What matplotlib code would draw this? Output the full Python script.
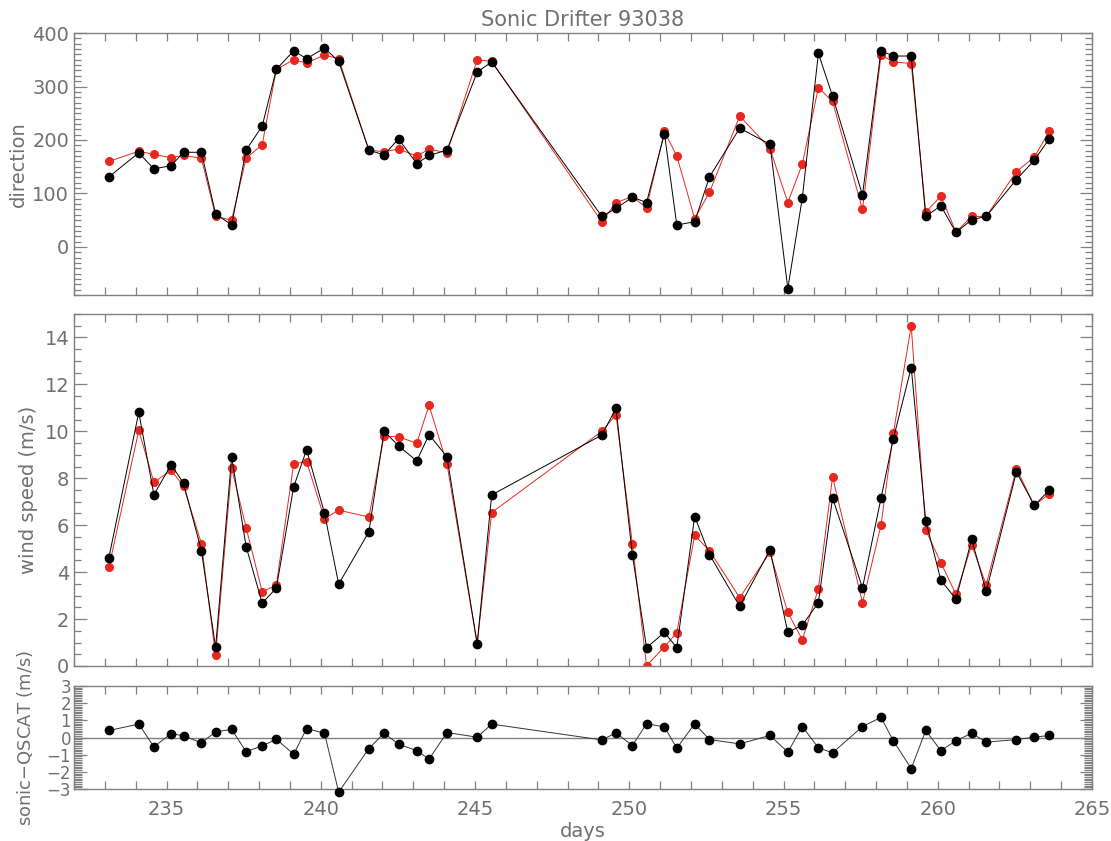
import matplotlib
matplotlib.use("Agg")
import matplotlib.pyplot as plt
from matplotlib.ticker import MultipleLocator

# observation times (day of year)
days = [233.13, 234.10, 234.59, 235.15, 235.55, 236.13, 236.59, 237.11, 237.58, 238.10,
        238.56, 239.12, 239.54, 240.12, 240.58, 241.56, 242.05, 242.52, 243.11, 243.51,
        244.09, 245.07, 245.54, 249.11, 249.57, 250.10, 250.56, 251.14, 251.54, 252.12,
        252.60, 253.58, 254.56, 255.14, 255.61, 256.13, 256.59, 257.56, 258.16, 258.56,
        259.14, 259.61, 260.10, 260.59, 261.10, 261.57, 262.55, 263.13, 263.61]

# direction: sonic (black) and QSCAT (red)
dir_sonic = [131, 176, 146, 152, 177, 177, 62, 41, 181, 226,
             332, 367, 352, 372, 347, 181, 172, 202, 156, 171,
             181, 327, 346, 57, 72, 93, 83, 212, 41, 47,
             131, 222, 192, -78, 92, 362, 282, 97, 367, 357,
             357, 57, 77, 27, 51, 57, 126, 162, 202]
dir_qscat = [160, 179, 173, 167, 171, 166, 57, 50, 166, 191,
             332, 350, 344, 359, 352, 181, 178, 183, 170, 183,
             176, 350, 347, 47, 83, 94, 73, 216, 170, 53,
             102, 245, 184, 83, 155, 298, 272, 70, 359, 346,
             343, 65, 95, 28, 57, 57, 141, 168, 216]

# wind speed (m/s)
spd_sonic = [4.61, 10.81, 7.30, 8.58, 7.79, 4.92, 0.79, 8.91, 5.09, 2.68,
             3.32, 7.63, 9.22, 6.52, 3.49, 5.72, 10.01, 9.38, 8.74, 9.86,
             8.91, 0.94, 7.29, 9.84, 10.98, 4.75, 0.78, 1.43, 0.78, 6.37,
             4.75, 2.54, 4.95, 1.43, 1.74, 2.70, 7.16, 3.33, 7.15, 9.69,
             12.72, 6.20, 3.66, 2.85, 5.40, 3.18, 8.27, 6.84, 7.49]
spd_qscat = [4.20, 10.04, 7.83, 8.34, 7.67, 5.22, 0.45, 8.43, 5.90, 3.16,
             3.45, 8.61, 8.71, 6.28, 6.64, 6.35, 9.79, 9.77, 9.49, 11.11,
             8.61, 0.94, 6.54, 10.00, 10.71, 5.22, 0.01, 0.82, 1.42, 5.57,
             4.91, 2.91, 4.84, 2.28, 1.12, 3.29, 8.06, 2.70, 6.00, 9.91,
             14.50, 5.79, 4.41, 3.05, 5.16, 3.46, 8.41, 6.84, 7.33]

# sonic - QSCAT difference (m/s)
spd_diff = [0.41, 0.78, -0.54, 0.23, 0.10, -0.31, 0.33, 0.47, -0.82, -0.49,
            -0.10, -0.97, 0.52, 0.25, -3.18, -0.64, 0.25, -0.39, -0.76, -1.26,
            0.29, 0.02, 0.78, -0.14, 0.27, -0.47, 0.80, 0.62, -0.62, 0.80,
            -0.12, -0.37, 0.12, -0.85, 0.64, -0.60, -0.89, 0.64, 1.17, -0.19,
            -1.81, 0.41, -0.76, -0.19, 0.25, -0.27, -0.12, 0.02, 0.12]

GRAY = "#808080"
TXT = "#707070"
RED = "#e8281e"
plt.rcParams["font.family"] = "DejaVu Sans"
plt.rcParams["font.size"] = 14

fig = plt.figure(figsize=(11.11, 8.41), dpi=100)
ax1 = fig.add_axes([0.0666, 0.6492, 0.9163, 0.3115])
ax2 = fig.add_axes([0.0666, 0.2081, 0.9163, 0.4185])
ax3 = fig.add_axes([0.0666, 0.0618, 0.9163, 0.1225])


def style(ax, ymaj, ymin):
    for s in ax.spines.values():
        s.set_color(GRAY)
        s.set_linewidth(1.0)
    ax.xaxis.set_major_locator(MultipleLocator(5))
    ax.xaxis.set_minor_locator(MultipleLocator(1))
    ax.yaxis.set_major_locator(MultipleLocator(ymaj))
    ax.yaxis.set_minor_locator(MultipleLocator(ymin))
    ax.tick_params(which="both", direction="in", top=True, right=True,
                   color=GRAY, labelcolor=TXT, width=0.9, labelsize=14)
    ax.tick_params(axis="x", which="both", length=6, pad=8)
    ax.tick_params(axis="y", which="major", length=9)
    ax.tick_params(axis="y", which="minor", length=5)
    ax.set_xlim(232, 265)


def draw(ax, y_red, y_black):
    ax.plot(days, y_red, color=RED, lw=0.7, marker="o", ms=5.5, mec=RED, mfc=RED, zorder=2)
    ax.plot(days, y_black, color="black", lw=0.7, marker="o", ms=6, mec="black", mfc="black", zorder=3)


draw(ax1, dir_qscat, dir_sonic)
style(ax1, 100, 10)
ax1.set_ylim(-90, 400)
ax1.tick_params(axis="x", labelbottom=False)
ax1.set_ylabel("direction", color=TXT, fontsize=14)
ax1.yaxis.set_label_coords(-0.045, 0.5)
ax1.set_title("Sonic Drifter 93038", color=TXT, fontsize=15, pad=5)

draw(ax2, spd_qscat, spd_sonic)
style(ax2, 2, 0.5)
ax2.set_ylim(0, 15)
ax2.tick_params(axis="x", labelbottom=False)
ax2.set_ylabel("wind speed (m/s)", color=TXT, fontsize=14)
ax2.yaxis.set_label_coords(-0.035, 0.5)

ax3.axhline(0, color=GRAY, lw=1.0, zorder=1)
ax3.plot(days, spd_diff, color="#333333", lw=0.7, marker="o", ms=6,
         mec="black", mfc="black", zorder=3, clip_on=False)
style(ax3, 1, 0.1)
ax3.set_ylim(-3, 3)
ax3.tick_params(axis="y", which="minor", length=6)
ax3.tick_params(axis="y", which="major", length=9, labelsize=12, pad=2)
ax3.set_ylabel("sonic$-$QSCAT (m/s)", color=TXT, fontsize=13)
ax3.yaxis.set_label_coords(-0.038, 0.5)
ax3.set_xlabel("days", color=TXT, fontsize=14, labelpad=2)

fig.savefig("out.png", dpi=100)
